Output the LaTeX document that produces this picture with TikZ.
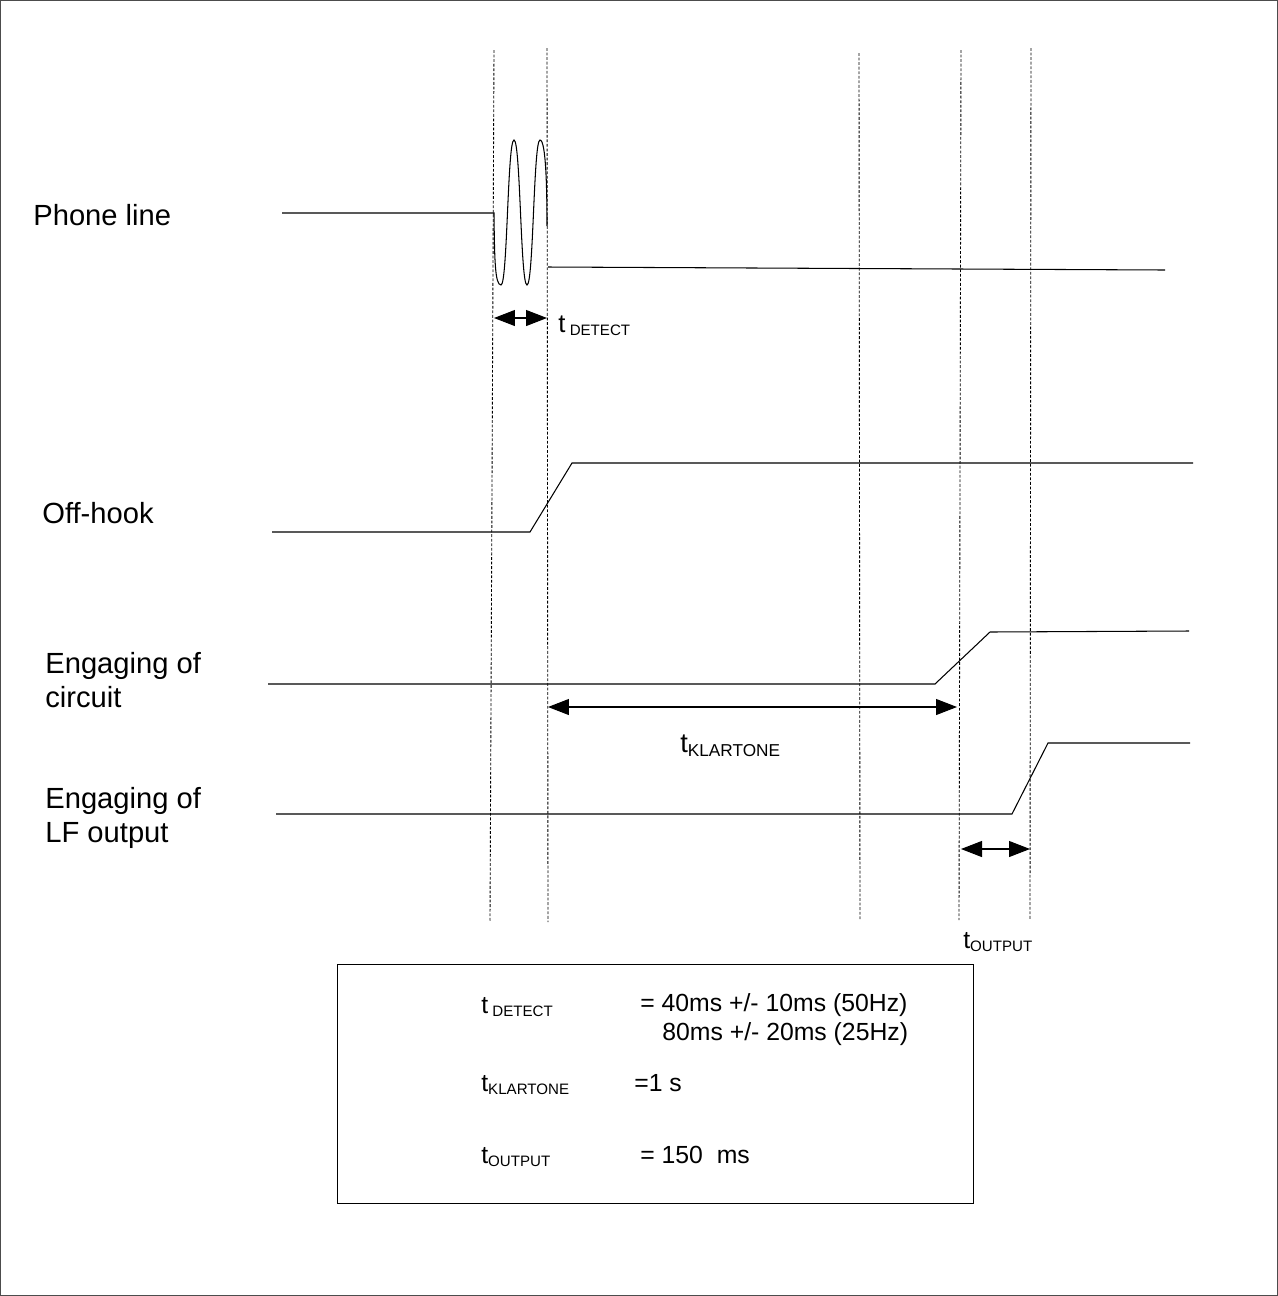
\documentclass[tikz,border=0pt]{standalone}
\usepackage{fontspec}
\setmainfont{Liberation Sans}
\usetikzlibrary{arrows.meta}
\newcommand\tsub[1]{t\raisebox{-0.3ex}{\fontsize{8.6}{9}\selectfont #1}}
\newcommand\tsubsp[1]{t\,\raisebox{-0.25ex}{\fontsize{8.6}{9}\selectfont #1}}
\begin{document}
\begin{tikzpicture}[x=0.02cm,y=-0.02cm,
  sig/.style={line width=0.6pt},
  guide/.style={line width=0.5pt,dash pattern=on 1.6pt off 1pt},
  dim/.style={line width=0.6pt,{Triangle[length=0.42cm,width=0.32cm]}-{Triangle[length=0.42cm,width=0.32cm]}},
  lbl/.style={anchor=base west,inner sep=0pt,font=\fontsize{16.6}{19.5}\selectfont,align=left},
  lgd/.style={anchor=base west,inner sep=0pt,font=\fontsize{14.1}{16.5}\selectfont}]
\useasboundingbox (0,0) rectangle (1278,1296);
\draw[line width=0.6pt,black!70] (0.5,0.5) rectangle (1277.5,1295.5);

% guide lines
\coordinate (g1t) at (494,50);   \coordinate (g1b) at (490,922);
\coordinate (g2t) at (547,48);   \coordinate (g2b) at (548,922);
\coordinate (g3t) at (859,53);   \coordinate (g3b) at (860,920);
\coordinate (g4t) at (961,50);   \coordinate (g4b) at (959,920);
\coordinate (g5t) at (1031,48);  \coordinate (g5b) at (1030,920);
\foreach \g in {g1,g2,g3,g4,g5} \draw[guide] (\g t) -- (\g b);

% labels
\node[lbl] (lphone) at (33,225) {Phone line};
\node[lbl] (loff) at (42,523) {Off-hook};
\node[lbl] (lcirc1) at (45,673) {Engaging of};
\node[lbl] (lcirc2) at (45,707) {circuit};
\node[lbl] (llf1) at (45,808) {Engaging of};
\node[lbl] (llf2) at (45,842) {LF output};

% phone line
\coordinate (p0) at (282,213);
\coordinate (p1) at (494,213);
\coordinate (p2) at (548,267);
\coordinate (p3) at (1165,270);
\draw[sig] (p0) -- (p1)
  .. controls (494.5,260) and (495,285) .. (501,285)
  .. controls (507.5,285) and (507.5,140) .. (514,140)
  .. controls (520.5,140) and (520.5,285) .. (527,285)
  .. controls (533.5,285) and (533.5,140) .. (540,140)
  .. controls (546,140) and (547,190) .. (547,226);
\draw[sig] (p2) -- (p3);

% off-hook
\coordinate (o0) at (272,532); \coordinate (o1) at (530,532);
\coordinate (o2) at (572,463); \coordinate (o3) at (1193,463);
\draw[sig] (o0) -- (o1) -- (o2) -- (o3);

% engaging of circuit
\coordinate (c0) at (268,684); \coordinate (c1) at (935,684);
\coordinate (c2) at (990,632); \coordinate (c3) at (1189,631);
\draw[sig] (c0) -- (c1) -- (c2) -- (c3);

% engaging of LF output
\coordinate (f0) at (276,814); \coordinate (f1) at (1012,814);
\coordinate (f2) at (1048,743); \coordinate (f3) at (1190,743);
\draw[sig] (f0) -- (f1) -- (f2) -- (f3);

% dimension arrows
\coordinate (d1a) at (494,318); \coordinate (d1b) at (547,318);
\draw[dim] (d1a) -- (d1b);
\node[lgd,font=\fontsize{14.6}{17}\selectfont] (tdet) at (558,332) {\tsubsp{DETECT}};

\coordinate (d2a) at (548,707); \coordinate (d2b) at (957,707);
\draw[dim] (d2a) -- (d2b);
\node[lgd,font=\fontsize{15.5}{18}\selectfont] (tkl) at (680,752) {t\raisebox{-0.3ex}{\fontsize{9.8}{10}\selectfont KLARTONE}};

\coordinate (d3a) at (961,849); \coordinate (d3b) at (1030,849);
\draw[dim] (d3a) -- (d3b);
\node[lgd] (tout) at (963,948) {\tsub{OUTPUT}};

% legend
\node[draw,line width=0.6pt,minimum width=636*0.02cm,minimum height=239*0.02cm,anchor=north west,inner sep=0pt] (box) at (337,964) {};
\node[lgd] (k1) at (481,1013) {\tsubsp{DETECT}};
\node[lgd] (v1a) at (640,1011) {= 40ms +/- 10ms (50Hz)};
\node[lgd] (v1b) at (662,1040) {80ms +/- 20ms (25Hz)};
\node[lgd] (k2) at (481,1091) {\tsub{KLARTONE}};
\node[lgd] (v2) at (634,1091) {=1 s};
\node[lgd] (k3) at (481,1163) {\tsub{OUTPUT}};
\node[lgd] (v3) at (640,1163) {= 150\ \ ms};
\end{tikzpicture}
\end{document}
